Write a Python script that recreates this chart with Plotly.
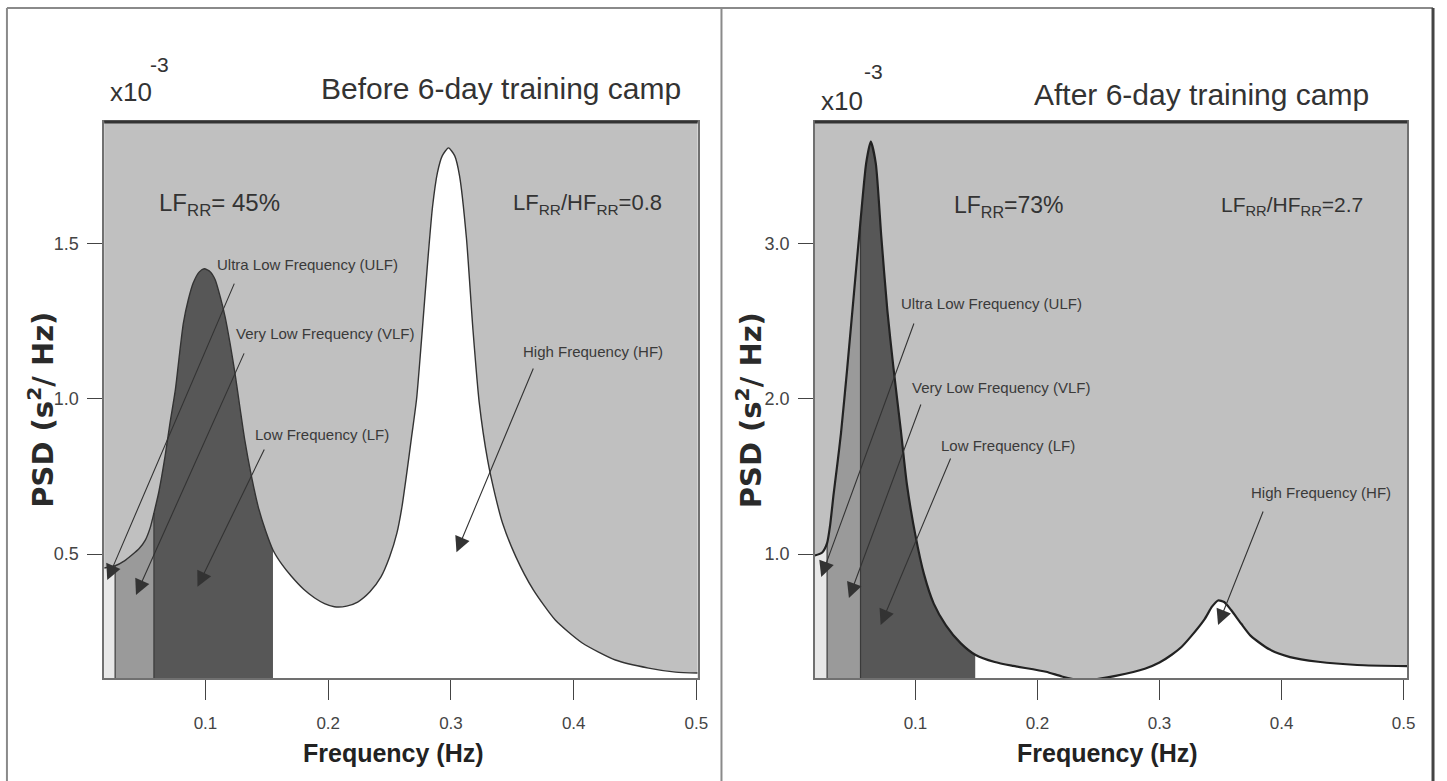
import plotly.graph_objects as go

# ---------------- data ----------------
# Before camp: frequency (Hz) and PSD (x10^-3 s^2/Hz)
freq_before = [0.0175, 0.0264, 0.034, 0.040, 0.046, 0.051, 0.055, 0.058, 0.062, 0.067,
               0.071, 0.0755, 0.079, 0.082, 0.086, 0.090, 0.095, 0.099, 0.104, 0.108,
               0.112, 0.116, 0.120, 0.124, 0.128, 0.132, 0.137, 0.143, 0.149, 0.155,
               0.162, 0.170, 0.180, 0.189, 0.197, 0.205, 0.215, 0.224, 0.234, 0.243,
               0.250, 0.256, 0.260, 0.264, 0.268, 0.272, 0.276, 0.281, 0.285, 0.289,
               0.293, 0.298, 0.303, 0.307, 0.3126, 0.318, 0.323, 0.330, 0.336, 0.342,
               0.353, 0.367, 0.385, 0.407, 0.434, 0.461, 0.483, 0.501]
psd_before = [0.455, 0.462, 0.478, 0.497, 0.518, 0.545, 0.585, 0.632, 0.70, 0.813,
              0.92, 1.03, 1.15, 1.245, 1.32, 1.374, 1.41, 1.42, 1.41, 1.384,
              1.33, 1.265, 1.18, 1.084, 0.975, 0.868, 0.76, 0.652, 0.575, 0.513,
              0.468, 0.428, 0.386, 0.358, 0.340, 0.330, 0.332, 0.345, 0.378, 0.426,
              0.49, 0.568, 0.65, 0.761, 0.88, 1.0, 1.19, 1.44, 1.62, 1.73,
              1.785, 1.81, 1.785, 1.72, 1.52, 1.22, 0.99, 0.80, 0.69, 0.60,
              0.49, 0.385, 0.287, 0.213, 0.158, 0.132, 0.119, 0.116]

# After camp
freq_after = [0.0175, 0.0236, 0.0276, 0.030, 0.033, 0.036, 0.039, 0.044, 0.0496, 0.055,
              0.0596, 0.0634, 0.0675, 0.072, 0.077, 0.082, 0.088, 0.093, 0.100, 0.107,
              0.115, 0.125, 0.137, 0.149, 0.165, 0.180, 0.207, 0.220, 0.235, 0.250,
              0.265, 0.288, 0.300, 0.310, 0.318, 0.326, 0.337, 0.343, 0.348, 0.353,
              0.3585, 0.367, 0.375, 0.390, 0.407, 0.430, 0.462, 0.503]
psd_after = [0.99, 1.01, 1.07, 1.18, 1.39, 1.58, 1.78, 2.19, 2.68, 3.15,
             3.52, 3.66, 3.52, 3.05, 2.57, 2.2, 1.8, 1.45, 1.12, 0.87,
             0.68, 0.54, 0.425, 0.35, 0.303, 0.278, 0.24, 0.21, 0.185, 0.195,
             0.215, 0.26, 0.30, 0.35, 0.40, 0.47, 0.58, 0.66, 0.70, 0.69,
             0.64, 0.55, 0.47, 0.385, 0.335, 0.305, 0.284, 0.277]

# band edges (ULF | VLF | LF)
bands_before = [0.0175, 0.0264, 0.058, 0.155]
bands_after = [0.0175, 0.0276, 0.055, 0.149]
band_names = ["ULF", "VLF", "LF"]

x_ticks = [0.1, 0.2, 0.3, 0.4, 0.5]
x_ticktext = ["0.1", "0.2", "0.3", "0.4", "0.5"]
y_ticks_before = [0.5, 1.0, 1.5]
y_ticktext_before = ["0.5", "1.0", "1.5"]
y_ticks_after = [1.0, 2.0, 3.0]
y_ticktext_after = ["1.0", "2.0", "3.0"]

titles = ["Before 6-day training camp", "After 6-day training camp"]
lf_texts = ["LF<sub>RR</sub>= 45%", "LF<sub>RR</sub>=73%"]
ratio_texts = ["LF<sub>RR</sub>/HF<sub>RR</sub>=0.8", "LF<sub>RR</sub>/HF<sub>RR</sub>=2.7"]
label_texts = ["Ultra Low Frequency (ULF)", "Very Low Frequency (VLF)",
               "Low Frequency (LF)", "High Frequency (HF)"]

# ---------------- styling ----------------
W, H = 1447, 781
BG = "#c0c0c0"
BAND_COLORS = ["#e8e8e8", "#9a9a9a", "#575757"]
SANS = "Liberation Sans, Arial, Helvetica, sans-serif"
TXT = "#333333"


def px(x):
    return x / W


def py(y):
    return 1 - y / H


fig = go.Figure()

panels = [
    dict(f=freq_before, p=psd_before, bands=bands_before, xa="x", ya="y", lw=1.4,
         lc="#333333", ybot=0.1),
    dict(f=freq_after, p=psd_after, bands=bands_after, xa="x2", ya="y2", lw=2.2,
         lc="#222222", ybot=0.2),
]

for pn in panels:
    f, p = pn["f"], pn["p"]
    # white area under the curve
    fig.add_trace(go.Scatter(x=f, y=p, mode="lines", fill="tozeroy", fillcolor="white",
                             line=dict(width=0, color="white", shape="spline", smoothing=0.6),
                             xaxis=pn["xa"], yaxis=pn["ya"], hoverinfo="skip", showlegend=False))
    # ULF / VLF / LF bands
    edges = pn["bands"]
    for k in range(3):
        lo, hi = edges[k], edges[k + 1]
        idx = [i for i, fv in enumerate(f) if lo <= fv <= hi]
        xs = [f[i] for i in idx]
        ys = [p[i] for i in idx]
        fig.add_trace(go.Scatter(x=xs, y=ys, mode="lines", fill="tozeroy",
                                 fillcolor=BAND_COLORS[k],
                                 line=dict(width=0, color=BAND_COLORS[k], shape="spline",
                                           smoothing=0.6),
                                 xaxis=pn["xa"], yaxis=pn["ya"], name=band_names[k],
                                 hoverinfo="skip", showlegend=False))
    # vertical separators at band edges
    for e in edges[1:3]:
        i = f.index(e)
        fig.add_trace(go.Scatter(x=[e, e], y=[pn["ybot"], p[i]], mode="lines",
                                 line=dict(width=1.2, color="#3a3a3a"),
                                 xaxis=pn["xa"], yaxis=pn["ya"], hoverinfo="skip",
                                 showlegend=False))
    # curve outline
    fig.add_trace(go.Scatter(x=f, y=p, mode="lines",
                             line=dict(width=pn["lw"], color=pn["lc"], shape="spline",
                                       smoothing=0.6),
                             xaxis=pn["xa"], yaxis=pn["ya"], showlegend=False, hoverinfo="skip"))

xaxis_common = dict(showgrid=False, zeroline=False, ticks="outside", ticklen=20, tickwidth=1.3,
                    tickcolor="#444444", tickvals=x_ticks, ticktext=x_ticktext,
                    tickfont=dict(family=SANS, size=17, color="#444444"),
                    showline=True, linecolor="#707070", linewidth=2, mirror=True,
                    ticklabelstandoff=9)
yaxis_common = dict(showgrid=False, zeroline=False, ticks="outside", ticklen=15, tickwidth=1.3,
                    tickcolor="#444444", tickfont=dict(family=SANS, size=18, color="#444444"),
                    showline=True, linecolor="#707070", linewidth=1.5, mirror=True,
                    ticklabelstandoff=5)

y_bot, y_top = py(678), py(122)
dom_left = [px(105), px(703)]
dom_right = [px(821), px(1418)]

fig.update_layout(
    width=W, height=H, margin=dict(l=0, r=0, t=0, b=0), autosize=False,
    paper_bgcolor="white", plot_bgcolor=BG, showlegend=False,
    xaxis=dict(domain=dom_left, range=[0.0175, 0.501], anchor="y", **xaxis_common),
    yaxis=dict(domain=[y_bot, y_top], range=[0.1, 1.8935], anchor="x",
               tickvals=y_ticks_before, ticktext=y_ticktext_before, **yaxis_common),
    xaxis2=dict(domain=dom_right, range=[0.0175, 0.503], anchor="y2", **xaxis_common),
    yaxis2=dict(domain=[y_bot, y_top], range=[0.2, 3.787], anchor="x2",
                tickvals=y_ticks_after, ticktext=y_ticktext_after, **yaxis_common),
)

ann = []
# titles and multipliers
ann.append(dict(x=px(688), y=py(89), xref="paper", yref="paper", text=titles[0], showarrow=False,
                xanchor="right", yanchor="middle", font=dict(family=SANS, size=30, color=TXT)))
ann.append(dict(x=px(1381), y=py(94), xref="paper", yref="paper", text=titles[1], showarrow=False,
                xanchor="right", yanchor="middle", font=dict(family=SANS, size=30, color=TXT)))
for (xx, yy, xs, ys) in [(109, 92, 149, 64), (825, 101, 869, 71)]:
    ann.append(dict(x=px(xx), y=py(yy), xref="paper", yref="paper", text="x10", showarrow=False,
                    xanchor="left", yanchor="middle", font=dict(family=SANS, size=26, color=TXT)))
    ann.append(dict(x=px(xs), y=py(ys), xref="paper", yref="paper", text="-3", showarrow=False,
                    xanchor="left", yanchor="middle", font=dict(family=SANS, size=21, color=TXT)))

# LF% and ratio
for (t, xx, yy, sz) in [(lf_texts[0], 158, 204, 24), (ratio_texts[0], 515, 204, 22),
                        (lf_texts[1], 959, 206, 23), (ratio_texts[1], 1228, 206, 21)]:
    ann.append(dict(x=px(xx), y=py(yy), xref="paper", yref="paper", text=t, showarrow=False,
                    xanchor="left", yanchor="middle", font=dict(family=SANS, size=sz, color=TXT)))

# axis titles
for xx in [41, 755]:
    ann.append(dict(x=px(xx), y=py(410), xref="paper", yref="paper",
                    text="PSD (s<sup>2</sup>/ Hz)", showarrow=False, textangle=-90,
                    xanchor="center", yanchor="middle",
                    font=dict(family="DejaVu Sans, Arial, sans-serif", size=29, color="#2a2a2a",
                              weight="bold")))
for xx in [397, 1116]:
    ann.append(dict(x=px(xx), y=py(753), xref="paper", yref="paper", text="<b>Frequency (Hz)</b>",
                    showarrow=False, xanchor="center", yanchor="middle",
                    font=dict(family=SANS, size=25, color="#222222")))

# band labels (text) and arrows, in data coordinates
labels_before = [(0.1833, 1.435), (0.1974, 1.21), (0.1946, 0.884), (0.416, 1.152)]
arrows_before = [((0.124, 1.377), (0.020, 0.416)), ((0.132, 1.152), (0.0434, 0.368)),
                 ((0.1485, 0.842), (0.0935, 0.394)), ((0.3676, 1.103), (0.3045, 0.506))]
labels_after = [(0.1626, 2.619), (0.170, 2.077), (0.1756, 1.703), (0.4325, 1.394)]
arrows_after = [((0.0992, 2.497), (0.0228, 0.852)), ((0.1049, 1.974), (0.0455, 0.716)),
                ((0.1293, 1.626), (0.0715, 0.542)), ((0.3854, 1.284), (0.348, 0.542))]

for (xr, yr, labs, arrs) in [("x", "y", labels_before, arrows_before),
                             ("x2", "y2", labels_after, arrows_after)]:
    for t, (lx, ly) in zip(label_texts, labs):
        ann.append(dict(x=lx, y=ly, xref=xr, yref=yr, text=t, showarrow=False,
                        xanchor="center", yanchor="middle",
                        font=dict(family=SANS, size=15, color="#3a3a3a")))
    for (tail, tip) in arrs:
        ann.append(dict(x=tip[0], y=tip[1], ax=tail[0], ay=tail[1], xref=xr, yref=yr,
                        axref=xr, ayref=yr, text="", showarrow=True, arrowhead=2,
                        arrowsize=2.8, arrowwidth=1.1, arrowcolor="#333333", standoff=0))

fig.update_layout(annotations=ann)

# frame lines and thick top borders of the plot areas
shapes = [
    dict(type="line", xref="paper", yref="paper", x0=px(7), x1=px(1444), y0=py(8), y1=py(8),
         line=dict(color="#8a8a8a", width=2)),
    dict(type="line", xref="paper", yref="paper", x0=px(7), x1=px(7), y0=0, y1=py(8),
         line=dict(color="#8a8a8a", width=2)),
    dict(type="line", xref="paper", yref="paper", x0=px(727), x1=px(727), y0=0, y1=py(8),
         line=dict(color="#8a8a8a", width=2)),
    dict(type="line", xref="paper", yref="paper", x0=px(1444), x1=px(1444), y0=0, y1=py(8),
         line=dict(color="#444444", width=3)),
]
for dom in (dom_left, dom_right):
    shapes.append(dict(type="line", xref="paper", yref="paper", x0=dom[0], x1=dom[1],
                       y0=y_top, y1=y_top, line=dict(color="#333333", width=3)))
fig.update_layout(shapes=shapes)

fig.write_html(
    "out.html",
    config={"displayModeBar": False, "responsive": False},
    post_script="document.body.style.margin='0px';document.body.style.overflow='hidden';",
)
